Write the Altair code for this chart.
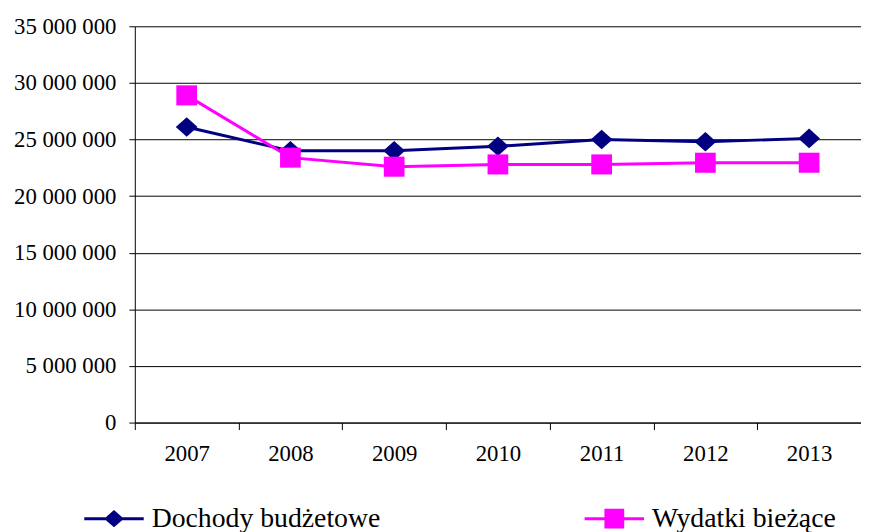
import altair as alt
import pandas as pd

years = ["2007", "2008", "2009", "2010", "2011", "2012", "2013"]
dochody = [26100000, 24000000, 24000000, 24400000, 25000000, 24800000, 25100000]
wydatki = [28900000, 23400000, 22600000, 22800000, 22800000, 22950000, 22950000]
series_names = ["Dochody budżetowe", "Wydatki bieżące"]
series_colors = ["#000080", "#FF00FF"]
y_ticks = [0, 5000000, 10000000, 15000000, 20000000, 25000000, 30000000, 35000000]

rows = []
for name, vals in zip(series_names, [dochody, wydatki]):
    for yr, v in zip(years, vals):
        rows.append({"year": yr, "series": name, "value": v})
df = pd.DataFrame(rows)

FONT = "Liberation Serif"

marker_shapes = [
    "M-1,0L0,-0.9L1,0L0,0.9Z",
    "M-0.95,-0.92L0.95,-0.92L0.95,0.92L-0.95,0.92Z",
]
legend_shapes = [
    "M-1,-0.05L1,-0.05L1,0.05L-1,0.05Z M-0.333,0L0,-0.29L0.333,0L0,0.29Z",
    "M-1,-0.05L1,-0.05L1,0.05L-1,0.05Z M-0.333,-0.333L0.333,-0.333L0.333,0.333L-0.333,0.333Z",
]

x_enc = alt.X(
    "year:N",
    sort=years,
    bandPosition=0.5,
    scale=alt.Scale(type="band", paddingInner=0, paddingOuter=0),
    axis=alt.Axis(
        title=None, labelAngle=0, tickBand="extent", tickSize=7, labelPadding=13,
        labelFontSize=23, labelColor="black",
        domainColor="black", tickColor="black", grid=False,
    ),
)
y_enc = alt.Y(
    "value:Q",
    scale=alt.Scale(domain=[0, 35000000], nice=False),
    axis=alt.Axis(
        title=None, values=y_ticks,
        labelExpr="replace(format(datum.value, ','), /,/g, ' ')",
        grid=True, gridColor="black", gridOpacity=1, gridWidth=1,
        tickSize=6, labelPadding=13, labelFontSize=23,
        labelColor="black", domainColor="black", tickColor="black",
    ),
)
color_scale = alt.Scale(domain=series_names, range=series_colors)

lines = alt.Chart(df).mark_line(strokeWidth=3).encode(
    x=x_enc, y=y_enc,
    color=alt.Color("series:N", scale=color_scale, sort=series_names, legend=None),
)
points = alt.Chart(df).mark_point(filled=True, opacity=1, size=484).encode(
    x=x_enc, y=y_enc,
    color=alt.Color("series:N", scale=color_scale, sort=series_names, legend=None),
    shape=alt.Shape("series:N", scale=alt.Scale(domain=series_names, range=marker_shapes), legend=None),
)

leg = alt.Legend(
    orient="none", legendX=-51, legendY=467, direction="horizontal", title=None,
    labelFontSize=28, labelColor="black", labelLimit=500,
    symbolSize=3600, symbolStrokeWidth=0, symbolOpacity=1, labelOffset=8,
    columnPadding=206, padding=0, rowPadding=0,
)
legend_layer = alt.Chart(df).transform_filter("false").mark_point(filled=True, opacity=1).encode(
    x=x_enc, y=y_enc,
    color=alt.Color("series:N", scale=color_scale, sort=series_names, legend=leg),
    shape=alt.Shape("series:N", scale=alt.Scale(domain=series_names, range=legend_shapes), legend=leg),
)

chart = (
    alt.layer(lines, points, legend_layer)
    .resolve_scale(color="independent", shape="independent")
    .properties(
        width=733, height=400,
        autosize=alt.AutoSizeParams(type="none"),
        padding={"left": 128, "top": 16, "right": 0, "bottom": 110},
        background="white",
    )
    .configure(font=FONT)
    .configure_axis(labelFont=FONT)
    .configure_legend(labelFont=FONT)
    .configure_view(stroke=None)
)

chart.save("out.html", embed_options={"renderer": "svg", "actions": False})
